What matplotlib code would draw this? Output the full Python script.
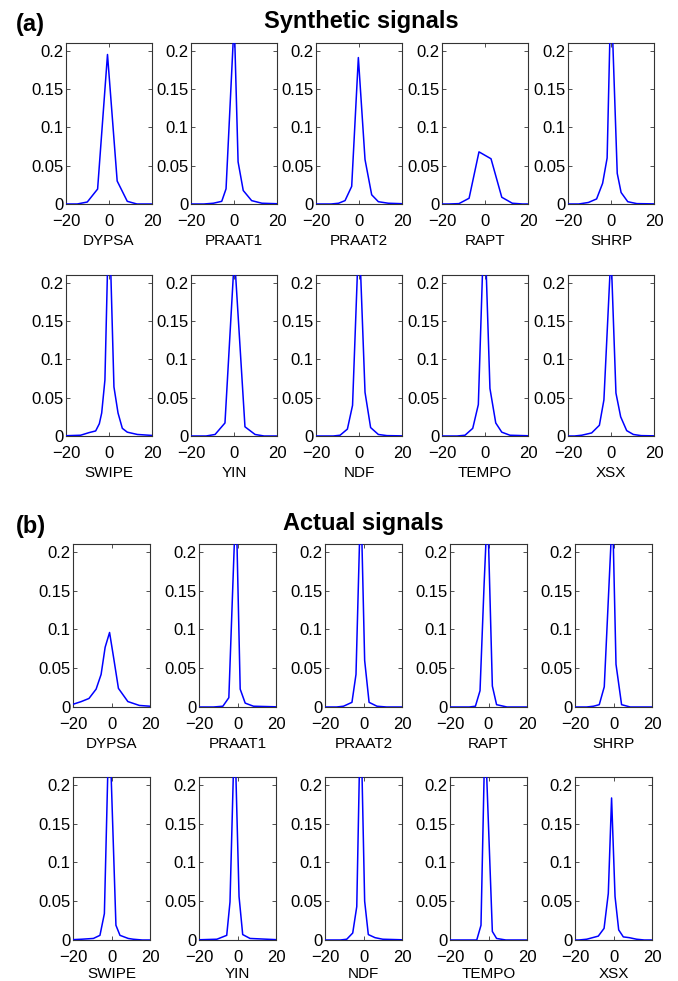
import numpy as np
import matplotlib.pyplot as plt

plt.rcParams.update({
    'font.family': ['Liberation Sans', 'DejaVu Sans'],
    'axes.linewidth': 0.8,
    'axes.edgecolor': '#333333',
    'xtick.direction': 'in',
    'ytick.direction': 'in',
    'xtick.top': True,
    'ytick.right': True,
})

methods = ['DYPSA', 'PRAAT1', 'PRAAT2', 'RAPT', 'SHRP',
           'SWIPE', 'YIN', 'NDF', 'TEMPO', 'XSX']

# ---- (a) synthetic signals: error distributions ----
syn_dypsa_x = [-24, -14.8, -10.1, -5.3, -0.7, 3.8, 8.5, 13, 24]
syn_dypsa_y = [0, 0, 0.0026, 0.0195, 0.195, 0.030, 0.0035, 0, 0]
syn_praat1_x = [-24, -14, -9.6, -5.7, -3.7, 0.1, 1.9, 4.3, 8.2, 13, 24]
syn_praat1_y = [0, 0, 0.001, 0.0035, 0.0198, 0.24, 0.055, 0.0176, 0.0044, 0.001, 0]
syn_praat2_x = [-24, -13, -9.5, -6.5, -3.4, -0.3, 2.8, 5.9, 9, 13.6, 24]
syn_praat2_y = [0, 0, 0.001, 0.0044, 0.023, 0.191, 0.058, 0.012, 0.003, 0.001, 0]
syn_rapt_x = [-24, -16.9, -12.1, -7.4, -2.8, 2.8, 7.8, 12.7, 17.5, 24]
syn_rapt_y = [0, 0, 0.0005, 0.0075, 0.068, 0.059, 0.0088, 0.001, 0, 0]
syn_shrp_x = [-24, -15, -10.5, -6.7, -3.9, -1.8, 0, 2.9, 4.7, 7.8, 12, 24]
syn_shrp_y = [0, 0, 0.002, 0.0066, 0.027, 0.06, 0.28, 0.04, 0.015, 0.003, 0.0005, 0]
syn_swipe_x = [-24, -13.2, -9.3, -6.2, -4.5, -3.4, -1.9, 0, 2.3, 4.2, 6.2, 8.5, 13.2, 24]
syn_swipe_y = [0, 0.001, 0.0044, 0.0066, 0.016, 0.030, 0.073, 0.30, 0.064, 0.030,
               0.010, 0.005, 0.002, 0]
syn_yin_x = [-24, -13, -8.8, -4.2, 0.2, 5.1, 9.8, 14, 24]
syn_yin_y = [0, 0, 0.002, 0.017, 0.235, 0.012, 0.002, 0, 0]
syn_ndf_x = [-24, -12, -8.8, -5.4, -3, 0, 2.8, 5.4, 9, 13, 24]
syn_ndf_y = [0, 0, 0.001, 0.009, 0.04, 0.27, 0.057, 0.011, 0.002, 0.0005, 0]
syn_tempo_x = [-24, -13, -9.3, -5.7, -3.1, -0.3, 2.3, 5, 7.8, 11.6, 24]
syn_tempo_y = [0, 0, 0.001, 0.010, 0.041, 0.29, 0.062, 0.017, 0.005, 0.001, 0]
syn_xsx_x = [-24, -17, -13.6, -9, -5.4, -3.3, 0, 2.3, 4.5, 7.3, 10.4, 14, 24]
syn_xsx_y = [0, 0, 0.001, 0.004, 0.014, 0.047, 0.24, 0.056, 0.025, 0.007, 0.002, 0.0005, 0]

# ---- (b) actual signals ----
act_dypsa_x = [-24, -20, -15.7, -11.7, -8, -5.4, -3.3, -1, 1.2, 3.6, 8.5, 14.5, 20, 24]
act_dypsa_y = [0.002, 0.0035, 0.007, 0.011, 0.023, 0.042, 0.077, 0.096, 0.062, 0.024,
               0.007, 0.002, 0.001, 0.001]
act_praat1_x = [-24, -12.5, -7.6, -4.5, -0.8, 1.4, 4, 8.3, 24]
act_praat1_y = [0, 0, 0.001, 0.012, 0.27, 0.023, 0.005, 0.001, 0]
act_praat2_x = [-24, -14, -10.4, -6, -3.9, -1.4, 0.6, 2.9, 7, 12, 24]
act_praat2_y = [0, 0, 0.001, 0.006, 0.042, 0.275, 0.06, 0.006, 0.001, 0, 0]
act_rapt_x = [-24, -10, -6.8, -4.4, -2.3, -0.5, 2, 4.2, 9.6, 24]
act_rapt_y = [0, 0, 0.001, 0.021, 0.157, 0.26, 0.027, 0.003, 0, 0]
act_shrp_x = [-24, -14, -10.4, -7.4, -4.8, -0.5, 1.3, 4.2, 8.7, 24]
act_shrp_y = [0, 0, 0.001, 0.003, 0.026, 0.255, 0.055, 0.003, 0, 0]
act_swipe_x = [-24, -15.5, -9.4, -6, -3.7, -1.2, 2.3, 4.4, 8.7, 11.3, 16, 24]
act_swipe_y = [0, 0.001, 0.002, 0.006, 0.034, 0.29, 0.019, 0.006, 0.002, 0.001, 0, 0]
act_yin_x = [-24, -10.7, -5.6, -3.9, -1.5, 0.8, 2.7, 6.5, 24]
act_yin_y = [0, 0.001, 0.006, 0.049, 0.276, 0.056, 0.007, 0.002, 0]
act_ndf_x = [-24, -12, -8.7, -5.6, -3.5, -1.5, 0.6, 2.5, 6, 10, 24]
act_ndf_y = [0, 0, 0.001, 0.009, 0.043, 0.30, 0.05, 0.007, 0.003, 0.001, 0]
act_tempo_x = [-24, -9, -6.1, -3.9, -1.8, 2, 4.2, 9, 24]
act_tempo_y = [0, 0, 0, 0.019, 0.27, 0.011, 0.002, 0, 0]
act_xsx_x = [-24, -18, -13.9, -7.9, -4.9, -2.7, -1, 0.8, 2.7, 5.1, 8.2, 12, 16, 24]
act_xsx_y = [0, 0, 0.001, 0.005, 0.015, 0.060, 0.183, 0.056, 0.013, 0.004, 0.003,
             0.001, 0, 0]

synthetic = [(syn_dypsa_x, syn_dypsa_y), (syn_praat1_x, syn_praat1_y),
             (syn_praat2_x, syn_praat2_y), (syn_rapt_x, syn_rapt_y),
             (syn_shrp_x, syn_shrp_y), (syn_swipe_x, syn_swipe_y),
             (syn_yin_x, syn_yin_y), (syn_ndf_x, syn_ndf_y),
             (syn_tempo_x, syn_tempo_y), (syn_xsx_x, syn_xsx_y)]
actual = [(act_dypsa_x, act_dypsa_y), (act_praat1_x, act_praat1_y),
          (act_praat2_x, act_praat2_y), (act_rapt_x, act_rapt_y),
          (act_shrp_x, act_shrp_y), (act_swipe_x, act_swipe_y),
          (act_yin_x, act_yin_y), (act_ndf_x, act_ndf_y),
          (act_tempo_x, act_tempo_y), (act_xsx_x, act_xsx_y)]

x_ticks = [-20, 0, 20]
y_ticks = [0, 0.05, 0.1, 0.15, 0.2]
y_tick_labels = ['0', '0.05', '0.1', '0.15', '0.2']

W, H = 678, 981
fig = plt.figure(figsize=(W / 100, H / 100), dpi=100)


def px_axes(left, top, width, height):
    # pixel box (origin top-left) -> figure fraction
    return fig.add_axes([left / W, (H - top - height) / H, width / W, height / H])


def draw_block(curves, lefts, width, tops, height, last_pad=3):
    for i, (xs, ys) in enumerate(curves):
        row, col = divmod(i, 5)
        ax = px_axes(lefts[col], tops[row], width, height)
        ax.plot(xs, ys, color='#0000ff', linewidth=1.1, zorder=3)
        ax.set_xlim(-20, 20)
        ax.set_ylim(0, 0.21)
        ax.set_xticks(x_ticks)
        ax.set_yticks(y_ticks)
        ax.set_yticklabels(y_tick_labels)
        ax.tick_params(axis='both', labelsize=12, length=3, width=0.6,
                       color='#333333')
        ax.tick_params(axis='x', pad=7.5)
        ax.tick_params(axis='y', pad=2)
        pad = last_pad if row == len(tops) - 1 else 3
        ax.set_xlabel(methods[i], fontsize=11, labelpad=pad)


draw_block(synthetic, [66, 191, 316, 442, 568], 86, [43, 275], 161)
# bottom row sits against the lower edge, so its labels go a little higher
draw_block(actual, [73, 199, 325, 450, 575], 77, [544, 777], 163, last_pad=0.8)

fig.text(16 / W, 1 - 31 / H, '(a)', fontsize=17, fontweight='bold', va='baseline')
fig.text(361 / W, 1 - 28 / H, 'Synthetic signals', fontsize=17, fontweight='bold',
         ha='center', va='baseline')
fig.text(16 / W, 1 - 533 / H, '(b)', fontsize=17, fontweight='bold', va='baseline')
fig.text(363 / W, 1 - 530 / H, 'Actual signals', fontsize=17, fontweight='bold',
         ha='center', va='baseline')

fig.savefig('out.png', dpi=100, facecolor='white')
